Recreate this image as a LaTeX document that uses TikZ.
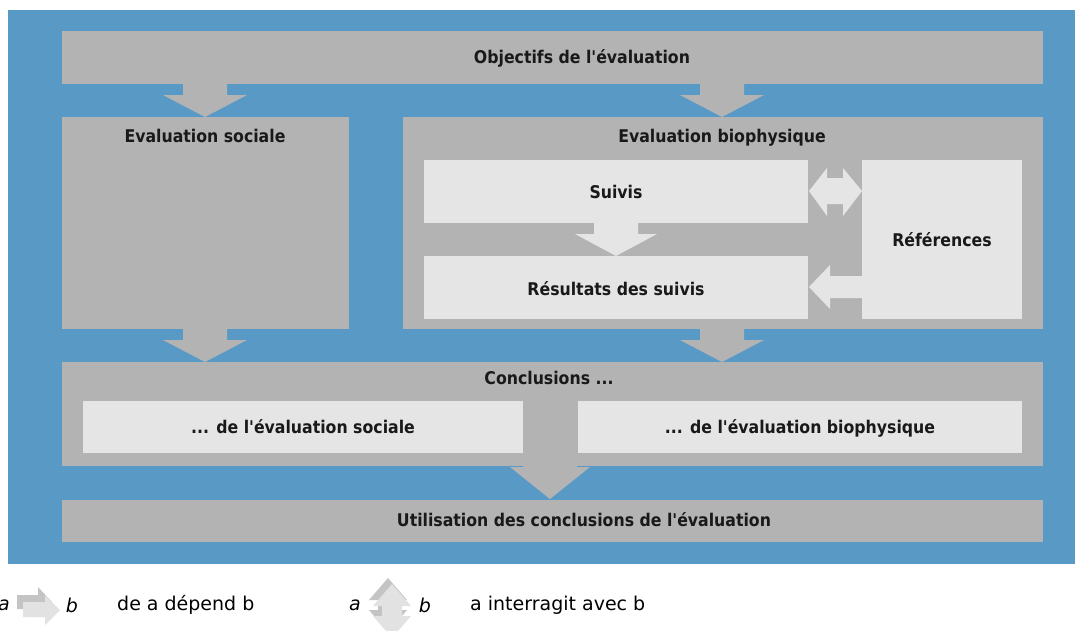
\documentclass[tikz,border=0pt]{standalone}
\usepackage{fontspec}
\setmainfont{DejaVu Sans Condensed}[Ligatures=TeXOff]
\newfontfamily\legfont{DejaVu Sans}
\usetikzlibrary{calc}
\definecolor{bgblue}{RGB}{89,153,197}
\definecolor{boxgray}{RGB}{179,179,179}
\definecolor{boxlight}{RGB}{229,229,229}
\definecolor{legdark}{RGB}{196,196,196}
\definecolor{leglight}{RGB}{226,226,226}
\tikzset{
  graybox/.style={fill=boxgray, draw=none, inner sep=0pt},
  lightbox/.style={fill=boxlight, draw=none, inner sep=0pt},
  lbl/.style={font=\bfseries\fontsize{17.5}{20}\selectfont, text=black!90, inner sep=0pt,
    text height=15pt, text depth=2pt},
  legtxt/.style={font=\legfont\fontsize{19}{22}\selectfont, inner sep=0pt, anchor=west},
  legvar/.style={font=\legfont\itshape\fontsize{19}{22}\selectfont, inner sep=0pt},
}
% down block arrow: centre x, top of stem, start of head, tip, stem half-width, head half-width, colour
\newcommand{\blockdown}[7]{%
  \fill[#7] (#1-#5,#2) -- (#1+#5,#2) -- (#1+#5,#3) -- (#1+#6,#3) -- (#1,#4) -- (#1-#6,#3) -- (#1-#5,#3) -- cycle;}
\begin{document}
\begin{tikzpicture}[x=1pt,y=-1pt]
\useasboundingbox (0,0) rectangle (1075,630);
\fill[white] (0,0) rectangle (1075,630);
\fill[bgblue] (8,10) rectangle (1075,564);

% main boxes
\node[graybox, minimum width=981pt, minimum height=53pt] (obj) at (552.5,57.5) {};
\node[lbl] (objt) at (582,57) {Objectifs de l'évaluation};

\node[graybox, minimum width=287pt, minimum height=212pt] (soc) at (205.5,223) {};
\node[lbl] (soct) at (205,136) {Evaluation sociale};

\node[graybox, minimum width=640pt, minimum height=212pt] (bio) at (723,223) {};
\node[lbl] (biot) at (722,136) {Evaluation biophysique};

\node[lightbox, minimum width=384pt, minimum height=63pt] (suiv) at (616,191.5) {};
\node[lbl] (suivt) at (suiv.center) {Suivis};

\node[lightbox, minimum width=384pt, minimum height=63pt] (res) at (616,287.5) {};
\node[lbl] (rest) at (616,289) {Résultats des suivis};

\node[lightbox, minimum width=160pt, minimum height=159pt] (ref) at (942,239.5) {};
\node[lbl] (reft) at (ref.center) {Références};

\node[graybox, minimum width=981pt, minimum height=104pt] (conc) at (552.5,414) {};
\node[lbl] (conct) at (549,378) {Conclusions ...};

\node[lightbox, minimum width=440pt, minimum height=52pt] (csoc) at (303,427) {};
\node[lbl] (csoct) at (csoc.center) {... de l'évaluation sociale};

\node[lightbox, minimum width=444pt, minimum height=52pt] (cbio) at (800,427) {};
\node[lbl] (cbiot) at (cbio.center) {... de l'évaluation biophysique};

\node[graybox, minimum width=981pt, minimum height=42pt] (util) at (552.5,520.5) {};
\node[lbl] (utilt) at (584,520) {Utilisation des conclusions de l'évaluation};

% arrows between boxes
\blockdown{205}{84}{95}{117}{22}{42}{boxgray}
\blockdown{722}{84}{95}{117}{22}{42}{boxgray}
\blockdown{205}{329}{340}{362}{22}{42}{boxgray}
\blockdown{722}{329}{340}{362}{22}{42}{boxgray}
\blockdown{616}{223}{234}{256}{22}{41}{boxlight}
\blockdown{550}{453}{467}{499}{27}{40}{boxgray}

% double arrow Suivis <-> References
\fill[boxlight] (809,191) -- (827,168) -- (827,178) -- (843,178) -- (843,168) -- (862,191)
  -- (843,216) -- (843,204) -- (827,204) -- (827,216) -- cycle;
% arrow References -> Resultats
\fill[boxlight] (809,287) -- (830,265) -- (830,276) -- (862,276) -- (862,298) -- (830,298) -- (830,309) -- cycle;

% legend
\node[legvar] (la) at (4,605) {a};
\fill[legdark] (17,595) -- (38,595) -- (38,587) -- (52,602) -- (38,617) -- (38,609) -- (17,609) -- cycle;
\fill[leglight] (23,602) -- (45,602) -- (45,595) -- (60,610) -- (45,625) -- (45,617) -- (23,617) -- cycle;
\node[legvar] (lb) at (72,605) {b};
\node[legtxt] (lt1) at (117,605) {de a dépend b};

\node[legvar] (la2) at (355,605) {a};
\fill[legdark] (388,578) -- (407,600) -- (398,600) -- (398,610) -- (407,610) -- (388,632) -- (369,610) -- (378,610) -- (378,600) -- (369,600) -- cycle;
\fill[leglight] (392,584) -- (411,606) -- (402,606) -- (402,616) -- (411,616) -- (392,638) -- (373,616) -- (382,616) -- (382,606) -- (373,606) -- cycle;
\node[legvar] (lb2) at (425,605) {b};
\node[legtxt] (lt2) at (470,605) {a interragit avec b};
\end{tikzpicture}
\end{document}
